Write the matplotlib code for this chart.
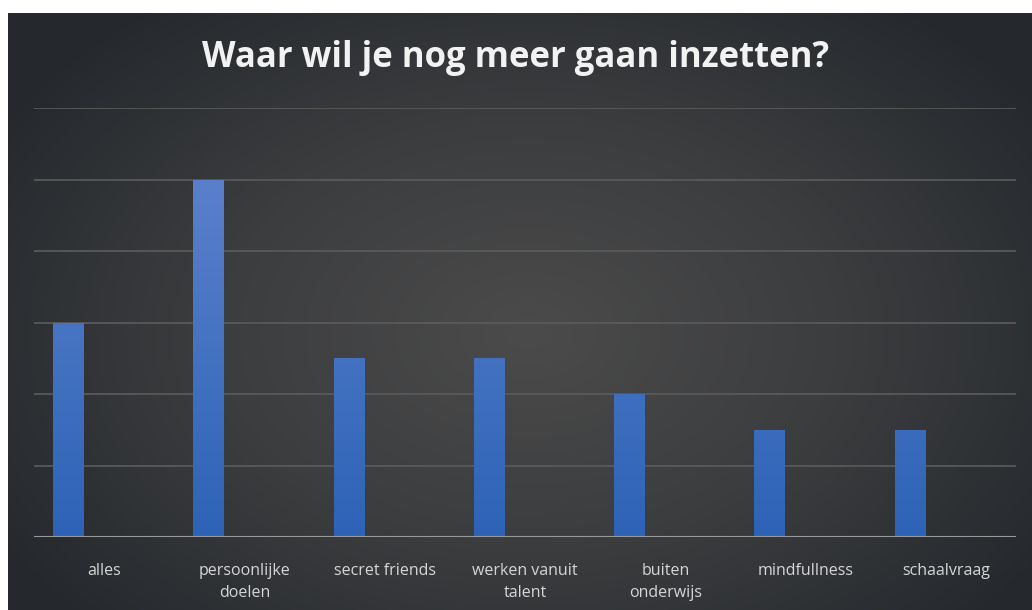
import numpy as np
import matplotlib.pyplot as plt
from matplotlib.colors import LinearSegmentedColormap

########### data ###########
categories = ['alles', 'persoonlijke\ndoelen', 'secret friends', 'werken vanuit\ntalent',
              'buiten\nonderwijs', 'mindfullness', 'schaalvraag']
values = [3, 5, 2.5, 2.5, 2, 1.5, 1.5]
title = 'Waar wil je nog meer gaan inzetten?'

W, H = 1032, 610
fig = plt.figure(figsize=(W / 100, H / 100), dpi=100, facecolor='white')

########### radial background ###########
bg = fig.add_axes([8 / W, 0, 1 - 8 / W, (H - 13) / H])
bg.set_axis_off()
yy, xx = np.mgrid[0:597, 0:1024]
cx, cy = 520, 320
r = np.sqrt(((xx - cx) / 620.0) ** 2 + ((yy - cy) / 420.0) ** 2)
r = np.clip(r, 0, 1)
bg_cmap = LinearSegmentedColormap.from_list('bg', ['#4b4b4b', '#3c3d3f', '#25292d'])
bg.imshow(r, cmap=bg_cmap, aspect='auto', extent=[0, 1, 0, 1], vmin=0, vmax=1)
bg.set_xlim(0, 1)
bg.set_ylim(0, 1)

########### chart ###########
ax = fig.add_axes([34 / W, (H - 537) / H, (1016 - 34) / W, (537 - 108) / H])
ax.patch.set_alpha(0)
x = np.arange(len(categories))
bars = ax.bar(x - 0.255, values, width=0.22, color='none', zorder=3)

bar_cmap = LinearSegmentedColormap.from_list('bar', ['#2d63b7', '#5a80cb'])
grad = np.linspace(0, 1, 256).reshape(-1, 1)
for b in bars:
    x0 = b.get_x()
    im = ax.imshow(grad, cmap=bar_cmap, aspect='auto', origin='lower',
                   extent=[x0, x0 + b.get_width(), 0, 5], zorder=3)
    im.set_clip_path(b)

ax.set_xlim(-0.5, len(categories) - 0.5)
ax.set_ylim(0, 6)
ax.set_yticks(np.arange(1, 7))
ax.yaxis.grid(True, color='#5c5c5c', linewidth=1.2, zorder=0)
ax.axhline(0, color='#9a9a9a', linewidth=1.5, zorder=4)
ax.tick_params(axis='y', length=0, labelleft=False)
ax.tick_params(axis='x', length=0, pad=19)
ax.set_xticks(x)
ax.set_xticklabels(categories, color='#d6d6d6', fontsize=11.5, family='Open Sans',
                   linespacing=1.5, va='top')
for s in ax.spines.values():
    s.set_visible(False)

fig.text(0.5, (H - 58) / H, title, ha='center', va='center', color='#f2f2f2',
         fontsize=25, fontweight='bold', family='Open Sans')

plt.savefig('out.png', dpi=100, facecolor='white')
